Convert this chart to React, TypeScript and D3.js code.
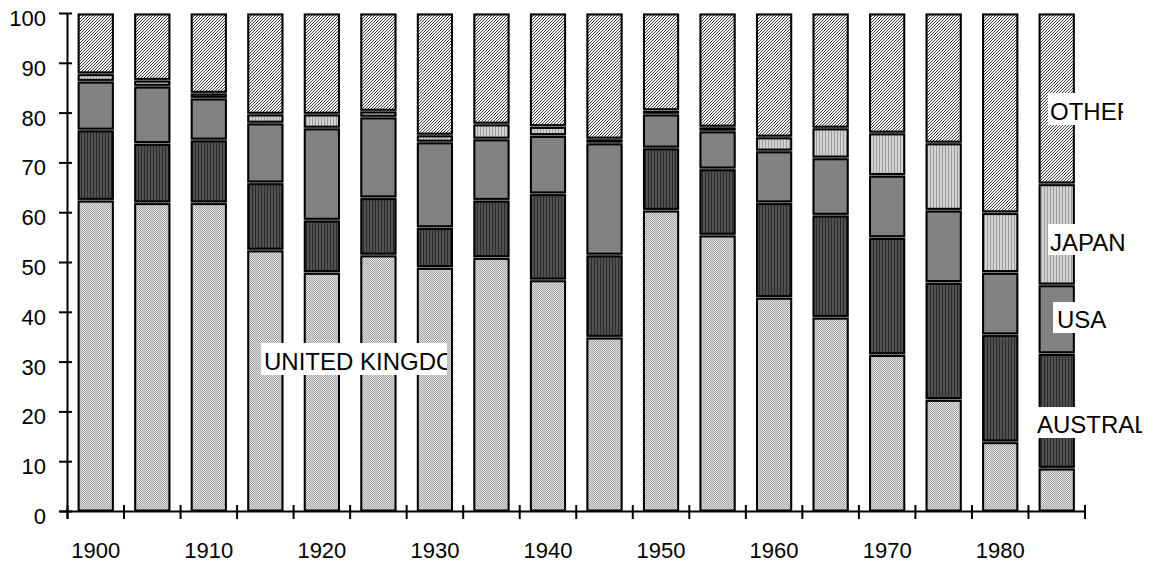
import React from "react";
import * as d3 from "d3";

const years = [1900, 1905, 1910, 1915, 1920, 1925, 1930, 1935, 1940, 1945, 1950, 1955, 1960, 1965, 1970, 1975, 1980, 1985];
const seriesNames = ["UNITED KINGDOM", "AUSTRALIA", "USA", "JAPAN", "OTHER"];
const ukValues = [62.5, 62, 62, 52.5, 48, 51.5, 49, 51, 46.5, 35, 60.5, 55.5, 43, 39, 31.5, 22.5, 14, 8.7];
const australiaValues = [14.1, 11.9, 12.6, 13.5, 10.5, 11.5, 8, 11.5, 17.3, 16.5, 12.5, 13.3, 19, 20.5, 23.5, 23.5, 21.5, 23];
const usaValues = [9.8, 11.5, 8.4, 12, 18.5, 16.2, 17.2, 12.3, 11.7, 22.5, 6.8, 7.6, 10.4, 11.5, 12.5, 14.5, 12.5, 13.8];
const japanValues = [1.5, 1.2, 1.0, 1.8, 2.8, 1.2, 1.4, 3, 1.8, 0.8, 0.7, 0.8, 2.8, 6, 8.5, 13.5, 12, 20.3];
const otherValues = [12.1, 13.4, 16, 20.2, 20.2, 19.6, 24.4, 22.2, 22.7, 25.2, 19.5, 22.8, 24.8, 23, 24, 26, 40, 34.2];
const yTicks = [0, 10, 20, 30, 40, 50, 60, 70, 80, 90, 100];
const xLabelYears = [1900, 1910, 1920, 1930, 1940, 1950, 1960, 1970, 1980];

const W = 1154;
const H = 564;
const FONT = "'Liberation Sans', Arial, sans-serif";

export default function App() {
  const x = d3.scaleBand<number>().domain(years).range([67.5, 1085]).paddingInner(0.36).paddingOuter(0.18);
  const y = d3.scaleLinear().domain([0, 100]).range([511.5, 13.5]);
  const step = x.step();

  const rows = years.map((yr, i) => ({
    year: yr,
    "UNITED KINGDOM": ukValues[i],
    AUSTRALIA: australiaValues[i],
    USA: usaValues[i],
    JAPAN: japanValues[i],
    OTHER: otherValues[i],
  }));
  const stack = d3.stack<any>().keys(seriesNames)(rows);
  const fills = ["url(#pUK)", "url(#pAU)", "url(#pUS)", "url(#pJP)", "url(#pOT)"];

  const inset = 1.4;
  const axisStart = 67.5;
  const tickPositions = d3.range(years.length + 1).map((k) => axisStart + k * step);

  return (
    <svg width={W} height={H} style={{ position: "absolute", left: 0, top: 0, background: "#fff" }} fontFamily={FONT}>
      <defs>
        <pattern id="pUK" width="2" height="2" patternUnits="userSpaceOnUse">
          <rect width="2" height="2" fill="#dedede" />
          <rect width="1" height="1" fill="#a8a8a8" />
          <rect x="1" y="1" width="1" height="1" fill="#a8a8a8" />
        </pattern>
        <pattern id="pAU" width="3" height="3" patternUnits="userSpaceOnUse">
          <rect width="3" height="3" fill="#505050" />
          <rect width="1" height="3" fill="#2a2a2a" />
        </pattern>
        <pattern id="pUS" width="2" height="2" patternUnits="userSpaceOnUse">
          <rect width="2" height="2" fill="#848484" />
          <rect width="1" height="1" fill="#7a7a7a" />
        </pattern>
        <pattern id="pJP" width="3" height="3" patternUnits="userSpaceOnUse">
          <rect width="3" height="3" fill="#d2d2d2" />
          <rect width="1" height="3" fill="#9c9c9c" />
        </pattern>
        <pattern id="pOT" width="3" height="3" patternUnits="userSpaceOnUse" shapeRendering="crispEdges">
          <rect width="3" height="3" fill="#f4f4f4" />
          <rect x="2" y="0" width="1" height="1" fill="#444" />
          <rect x="1" y="1" width="1" height="1" fill="#444" />
          <rect x="0" y="2" width="1" height="1" fill="#444" />
        </pattern>
        <clipPath id="cUK"><rect x={261} y={343} width={186} height={32} /></clipPath>
        <clipPath id="cOT"><rect x={1048} y={93} width={75} height={32} /></clipPath>
        <clipPath id="cAU"><rect x={1035} y={407} width={107} height={31} /></clipPath>
      </defs>

      {/* bars */}
      {years.map((yr) => (
        <rect key={"bg" + yr} x={(x(yr) as number)} y={y(100)} width={x.bandwidth()} height={y(0) - y(100)} fill="#9a9a9a" />
      ))}
      {stack.map((layer, si) =>
        layer.map((d: any) => {
          const yr = d.data.year;
          const top = y(d[1]);
          const bot = y(d[0]);
          const t = si === seriesNames.length - 1 ? top + 1 : top + inset;
          const b = si === 0 ? bot - 1 : bot - inset;
          const h = Math.max(0.1, b - t);
          return (
            <rect
              key={seriesNames[si] + yr}
              x={(x(yr) as number) + 1}
              y={t}
              width={x.bandwidth() - 2}
              height={h}
              fill={fills[si]}
              stroke="#000"
              strokeWidth={2}
            />
          );
        })
      )}

      {/* y axis */}
      <line x1={axisStart} x2={axisStart} y1={y(100)} y2={519} stroke="#000" strokeWidth={2} />
      {yTicks.map((t) => (
        <g key={"yt" + t}>
          <line x1={59} x2={72} y1={y(t)} y2={y(t)} stroke="#000" strokeWidth={2} />
          <text x={46} y={y(t) + 12.5} textAnchor="end" fontSize={22} fill="#000">{t}</text>
        </g>
      ))}

      {/* x axis */}
      <line x1={axisStart - 8} x2={1085} y1={y(0)} y2={y(0)} stroke="#000" strokeWidth={2} />
      {tickPositions.map((p, k) => (
        <line key={"xt" + k} x1={p} x2={p} y1={505} y2={519} stroke="#000" strokeWidth={2} />
      ))}
      {xLabelYears.map((yr) => (
        <text key={"xl" + yr} x={(x(yr) as number) + x.bandwidth() / 2} y={558} textAnchor="middle" fontSize={22} fill="#000">{yr}</text>
      ))}

      {/* series labels */}
      <rect x={261} y={343} width={186} height={32} fill="#fff" />
      <text x={264} y={370} fontSize={24} fill="#000" clipPath="url(#cUK)">{seriesNames[0]}</text>

      <rect x={1048} y={93} width={75} height={32} fill="#fff" />
      <text x={1050} y={120} fontSize={24} fill="#000" clipPath="url(#cOT)">{seriesNames[4]}</text>

      <rect x={1048} y={224} width={84} height={31} fill="#fff" />
      <text x={1050} y={251} fontSize={24} fill="#000">{seriesNames[3]}</text>

      <rect x={1053} y={302} width={60} height={31} fill="#fff" />
      <text x={1057} y={328} fontSize={24} fill="#000">{seriesNames[2]}</text>

      <rect x={1035} y={407} width={107} height={31} fill="#fff" />
      <text x={1037} y={433} fontSize={24} fill="#000" clipPath="url(#cAU)">{seriesNames[1]}</text>
    </svg>
  );
}
